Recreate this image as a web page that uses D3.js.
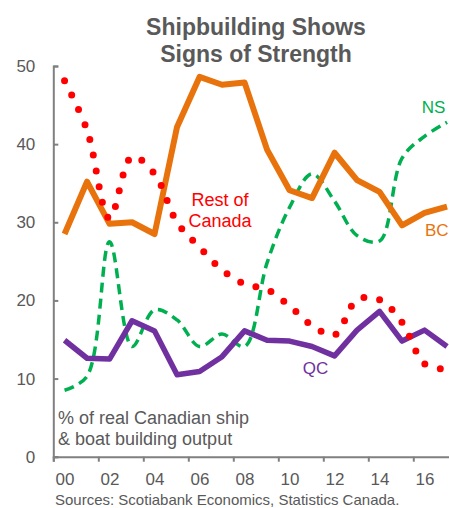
<!DOCTYPE html>
<html>
<head>
<meta charset="utf-8">
<script src="https://cdn.jsdelivr.net/npm/d3@7"></script>
<style>
  html, body { margin: 0; padding: 0; background: #fff; }
  svg { display: block; font-family: "Liberation Sans", Arial, sans-serif; }
</style>
</head>
<body>
<svg id="chart" width="449" height="508"></svg>
<script>
// Share of real Canadian ship & boat building output, by region (%)
const years = [2000, 2001, 2002, 2003, 2004, 2005, 2006, 2007, 2008,
               2009, 2010, 2011, 2012, 2013, 2014, 2015, 2016, 2017];
const bc   = [28.5, 35.2, 29.8, 30.0, 28.5, 42.2, 48.6, 47.6, 47.9,
              39.3, 34.1, 33.1, 38.9, 35.4, 33.9, 29.6, 31.2, 32.0];
const qc   = [14.9, 12.6, 12.5, 17.4, 16.1, 10.5, 10.9, 12.8, 16.1,
              14.9, 14.8, 14.1, 12.9, 16.2, 18.6, 14.8, 16.2, 14.1];
const ns   = [8.5, 10.3, 27.5, 14.1, 18.8, 17.5, 14.1, 15.7, 14.1,
              24.8, 31.9, 36.2, 32.7, 28.3, 27.6, 38.2, 41.0, 42.8];
const rest = [48.1, 41.8, 30.5, 38.4, 36.2, 30.0, 26.8, 23.9, 22.1,
              21.4, 19.3, 16.8, 15.6, 20.1, 20.1, 17.2, 11.9, 11.2];
const yTicks = [0, 10, 20, 30, 40, 50];
const xLabelYears = [2000, 2002, 2004, 2006, 2008, 2010, 2012, 2014, 2016];

const svg = d3.select("#chart");
const grey = "#595959";
const axisGrey = "#808080";

// Scales: each year occupies a slot; points sit in the middle of the slot
const x = d3.scaleLinear().domain([2000, 2018]).range([53.3, 458.3]);
const y = d3.scaleLinear().domain([0, 50]).range([456.7, 66]);
const xc = yr => x(yr + 0.5);

// Title
const title = svg.append("text")
  .attr("text-anchor", "middle")
  .attr("fill", grey)
  .attr("font-weight", "bold")
  .attr("font-size", 23);
title.append("tspan").attr("x", 256).attr("y", 35).text("Shipbuilding Shows");
title.append("tspan").attr("x", 256).attr("y", 62).text("Signs of Strength");

// Y axis (ticks point into the plot)
const yAxis = svg.append("g")
  .attr("transform", `translate(${x(2000)},0)`)
  .call(d3.axisRight(y).tickValues(yTicks).tickSize(5).tickFormat(""));
yAxis.select(".domain").attr("stroke", axisGrey).attr("stroke-width", 2);
yAxis.selectAll(".tick line").attr("stroke", axisGrey).attr("stroke-width", 2);

const yLabels = svg.append("g")
  .attr("transform", `translate(${x(2000)},0)`)
  .call(d3.axisLeft(y).tickValues(yTicks).tickSize(0).tickPadding(18));
yLabels.select(".domain").remove();
yLabels.selectAll("text")
  .attr("fill", grey).attr("font-size", 17)
  .attr("font-family", "Liberation Sans, Arial, sans-serif");

// X axis: ticks at slot boundaries every two years, labels under slot centres
const xAxis = svg.append("g")
  .attr("transform", `translate(0,${y(0)})`)
  .call(d3.axisBottom(x).tickValues(d3.range(2000, 2019, 2)).tickSize(5).tickFormat(""));
xAxis.select(".domain").attr("stroke", axisGrey).attr("stroke-width", 2);
xAxis.selectAll(".tick line").attr("stroke", axisGrey).attr("stroke-width", 2);

const xLabels = svg.append("g")
  .attr("transform", `translate(0,${y(0)})`)
  .call(d3.axisBottom(d3.scaleLinear().domain([2000.5, 2018.5]).range([x(2000.5), x(2018.5)]))
    .tickValues(xLabelYears.map(v => v + 0.5))
    .tickSize(0).tickPadding(16)
    .tickFormat(v => String(Math.floor(v) % 100).padStart(2, "0")));
xLabels.select(".domain").remove();
xLabels.selectAll("text")
  .attr("fill", grey).attr("font-size", 17)
  .attr("font-family", "Liberation Sans, Arial, sans-serif");

// Series
const straight = d3.line().x((d, i) => xc(years[i])).y(d => y(d));
const smooth = d3.line().x((d, i) => xc(years[i])).y(d => y(d)).curve(d3.curveCatmullRom.alpha(0.5));

svg.append("path").datum(ns)
  .attr("d", smooth).attr("fill", "none")
  .attr("stroke", "#00B050").attr("stroke-width", 3.5)
  .attr("stroke-dasharray", "10 6");

svg.append("path").datum(qc)
  .attr("d", straight).attr("fill", "none")
  .attr("stroke", "#7030A0").attr("stroke-width", 5.5)
  .attr("stroke-linejoin", "round");

svg.append("path").datum(bc)
  .attr("d", straight).attr("fill", "none")
  .attr("stroke", "#E8730C").attr("stroke-width", 6)
  .attr("stroke-linejoin", "round");

svg.append("path").datum(rest)
  .attr("d", smooth).attr("fill", "none")
  .attr("stroke", "#FF0000").attr("stroke-width", 7)
  .attr("stroke-linecap", "round")
  .attr("stroke-dasharray", "0 16");

// Series labels
const lbl = (txt, px, py, color, size, anchor) => svg.append("text")
  .attr("x", px).attr("y", py).attr("fill", color)
  .attr("font-size", size).attr("text-anchor", anchor || "start").text(txt);
lbl("Rest of", 220, 206, "#FF0000", 18, "middle");
lbl("Canada", 220, 227, "#FF0000", 18, "middle");
lbl("NS", 421.7, 113, "#00B050", 17);
lbl("BC", 425, 236, "#E8730C", 17);
lbl("QC", 302.7, 374, "#7030A0", 17);

// Unit note
lbl("% of real Canadian ship", 58, 424, grey, 18);
lbl("& boat building output", 58, 445, grey, 18);

// Source line
svg.append("text")
  .attr("x", 55).attr("y", 505).attr("fill", grey)
  .attr("font-size", 15)
  .text("Sources: Scotiabank Economics, Statistics Canada.");
</script>
</body>
</html>
